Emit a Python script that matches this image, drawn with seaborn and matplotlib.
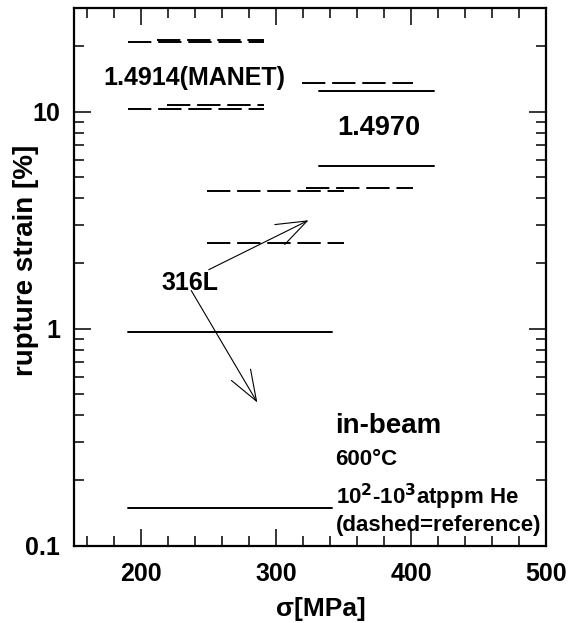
import matplotlib
matplotlib.use("Agg")
import matplotlib.pyplot as plt
from matplotlib.ticker import FixedLocator, LogLocator, NullFormatter
import seaborn as sns
import pandas as pd

# horizontal segments: stress range [MPa] and rupture strain [%]
seg_x0 = [190, 212, 190, 219, 319, 332, 332, 322, 249, 249, 190, 190]
seg_x1 = [291, 291, 291, 291, 401, 417, 417, 401, 350, 350, 341, 341]
seg_strain = [21.0, 21.3, 10.3, 10.7, 13.6, 12.4, 5.6, 4.47, 4.31, 2.48, 0.97, 0.149]
seg_kind = ["reference", "reference", "reference", "reference", "reference", "in-beam",
            "in-beam", "reference", "reference", "reference", "in-beam", "in-beam"]

x_ticks = [200, 300, 400, 500]
y_ticks = [0.1, 1, 10]
y_labels = ["0.1", "1", "10"]

rows = []
for i in range(len(seg_x0)):
    rows.append({"seg": i, "stress": seg_x0[i], "strain": seg_strain[i], "kind": seg_kind[i]})
    rows.append({"seg": i, "stress": seg_x1[i], "strain": seg_strain[i], "kind": seg_kind[i]})
df = pd.DataFrame(rows)

sns.set_style("ticks")
plt.rcParams["font.family"] = ["Liberation Sans", "DejaVu Sans"]
plt.rcParams["font.weight"] = "bold"
plt.rcParams["mathtext.default"] = "bf"
plt.rcParams["text.color"] = "k"
plt.rcParams["axes.labelcolor"] = "k"
plt.rcParams["xtick.color"] = "k"
plt.rcParams["ytick.color"] = "k"

fig, ax = plt.subplots(figsize=(5.81, 6.23), dpi=100)
fig.subplots_adjust(left=0.127, right=0.940, top=0.987, bottom=0.124)

sns.lineplot(data=df, x="stress", y="strain", units="seg", estimator=None, sort=False,
             style="kind", dashes={"in-beam": "", "reference": (12, 3.5)},
             color="k", lw=1.4, legend=False, ax=ax)

ax.set_yscale("log")
ax.set_xlim(150, 500)
ax.set_ylim(0.1, 30)

ax.xaxis.set_major_locator(FixedLocator(x_ticks))
ax.xaxis.set_minor_locator(FixedLocator(list(range(160, 500, 20))))
ax.set_xticklabels([str(t) for t in x_ticks])
ax.yaxis.set_major_locator(FixedLocator(y_ticks))
ax.yaxis.set_minor_locator(LogLocator(base=10, subs=range(2, 10)))
ax.yaxis.set_minor_formatter(NullFormatter())
ax.set_yticklabels(y_labels)

ax.tick_params(which="both", direction="in", top=True, right=True, width=1.1, color="k")
ax.tick_params(which="major", length=12, labelsize=18)
ax.tick_params(axis="x", which="major", pad=12)
ax.tick_params(axis="y", which="major", pad=10)
ax.tick_params(which="minor", length=7)
for lab in ax.get_xticklabels() + ax.get_yticklabels():
    lab.set_fontweight("bold")
for sp in ax.spines.values():
    sp.set_linewidth(1.6)
    sp.set_color("k")

ax.set_xlabel("σ[MPa]", fontsize=19, fontweight="bold")
ax.xaxis.set_label_coords(0.523, -0.095)
ax.set_ylabel("rupture strain [%]", fontsize=20, fontweight="bold")
ax.yaxis.set_label_coords(-0.074, 0.53)

ax.text(239, 14.3, "1.4914(MANET)", fontsize=18, fontweight="bold", ha="center", va="center")
ax.text(376, 8.4, "1.4970", fontsize=19.5, fontweight="bold", ha="center", va="center")
ax.text(236, 1.62, "316L", fontsize=18, fontweight="bold", ha="center", va="center")

arrow = dict(arrowstyle="->,head_length=1.1,head_width=0.4", lw=0.8, color="k",
             mutation_scale=20, shrinkA=0, shrinkB=0)
ax.annotate("", xy=(324, 3.16), xytext=(250, 1.87), arrowprops=arrow)
ax.annotate("", xy=(286, 0.457), xytext=(237, 1.5), arrowprops=arrow)

ax.text(344, 0.355, "in-beam", fontsize=20, fontweight="bold", ha="left", va="center")
ax.text(344, 0.25, "600°C", fontsize=16, fontweight="bold", ha="left", va="center")
ax.text(344, 0.168, r"10$^2$-10$^3$atppm He", fontsize=16, fontweight="bold", ha="left", va="center")
ax.text(344, 0.124, "(dashed=reference)", fontsize=16, fontweight="bold", ha="left", va="center")

plt.savefig("out.png", dpi=100)
